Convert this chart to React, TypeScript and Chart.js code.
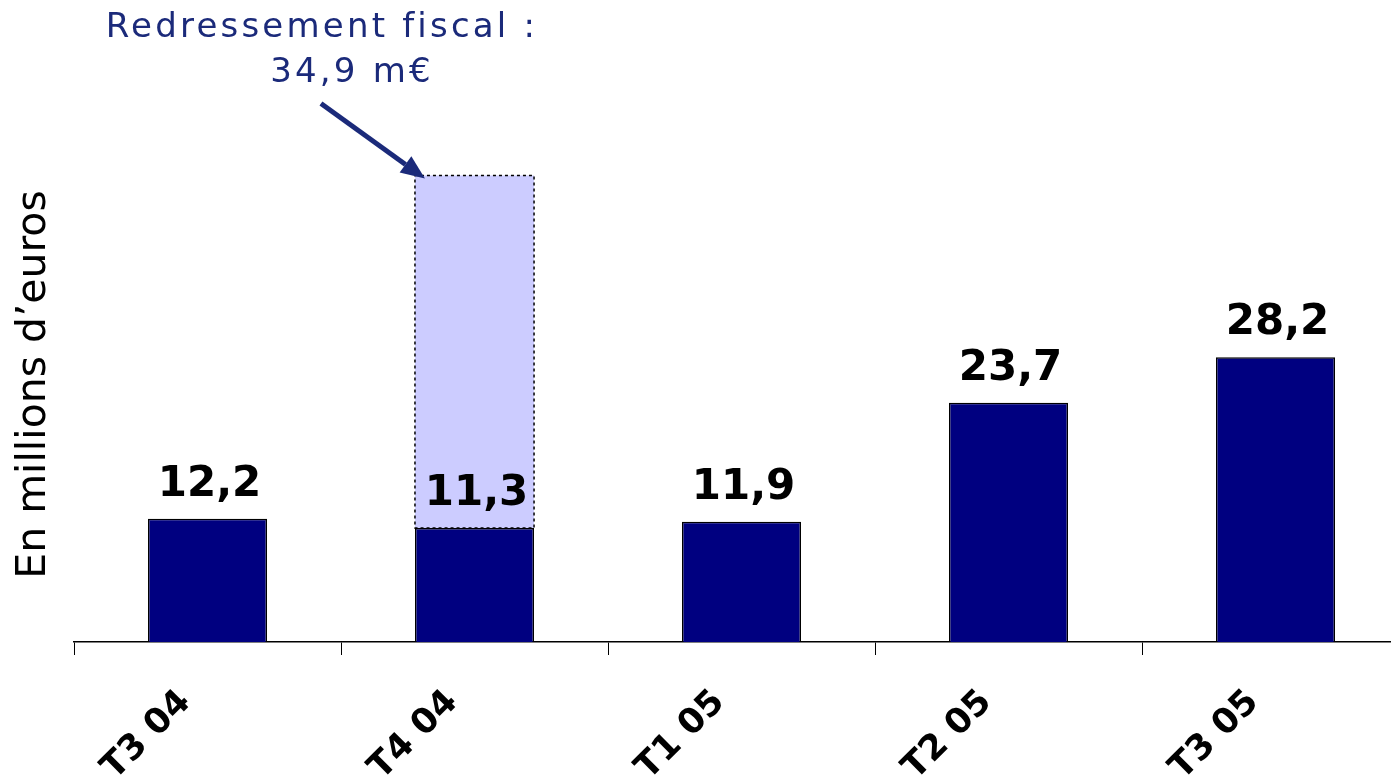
import React, { useEffect, useRef } from "react";
import { Chart, registerables } from "chart.js";

Chart.register(...registerables);

// ---- data ----
const categories = ["T3 04", "T4 04", "T1 05", "T2 05", "T3 05"];
const resultValues = [12.2, 11.3, 11.9, 23.7, 28.2];
const fiscalValues: (number | null)[] = [null, 34.9, null, null, null];
const valueLabels = ["12,2", "11,3", "11,9", "23,7", "28,2"];
const yAxisTitle = "En millions d’euros";
const noteLines = ["Redressement fiscal :", "34,9 m€"];
const Y_MAX = 51;

const CANVAS_W = 1409;
const CANVAS_H = 776;
const NOTE_COLOR = "#1B2A7A";

const overlay = {
  id: "overlay",
  afterDatasetsDraw(chart: any) {
    const ctx: CanvasRenderingContext2D = chart.ctx;
    const m0 = chart.getDatasetMeta(0);
    const m1 = chart.getDatasetMeta(1);
    ctx.save();

    // dotted border around the fiscal part
    let fiscalEl: any = null;
    m1.data.forEach((el: any, i: number) => {
      if (fiscalValues[i] == null) return;
      fiscalEl = el;
      const { x, y, base, width } = el.getProps(["x", "y", "base", "width"], true);
      ctx.setLineDash([3, 3]);
      ctx.lineWidth = 1.5;
      ctx.strokeStyle = "#000";
      ctx.strokeRect(x - width / 2, y, width, base - y);
    });
    ctx.setLineDash([]);

    // value labels
    ctx.fillStyle = "#000";
    ctx.font = "bold 42px 'DejaVu Sans'";
    ctx.textAlign = "center";
    ctx.textBaseline = "alphabetic";
    m0.data.forEach((el: any, i: number) => {
      const { x, y } = el.getProps(["x", "y"], true);
      ctx.fillText(valueLabels[i], x + 2, y - 23);
    });

    // annotation arrow + text
    if (fiscalEl) {
      const { x, y, width } = fiscalEl.getProps(["x", "y", "width"], true);
      const tipX = x - width / 2 + 10;
      const tipY = y + 3;
      const sx = tipX - 104;
      const sy = tipY - 75;
      const ang = Math.atan2(tipY - sy, tipX - sx);
      const headLen = 24;
      const headHalf = 10;
      const bx = tipX - headLen * Math.cos(ang);
      const by = tipY - headLen * Math.sin(ang);
      ctx.strokeStyle = NOTE_COLOR;
      ctx.fillStyle = NOTE_COLOR;
      ctx.lineWidth = 5;
      ctx.beginPath();
      ctx.moveTo(sx, sy);
      ctx.lineTo(bx, by);
      ctx.stroke();
      ctx.beginPath();
      ctx.moveTo(tipX, tipY);
      ctx.lineTo(bx + headHalf * Math.sin(ang), by - headHalf * Math.cos(ang));
      ctx.lineTo(bx - headHalf * Math.sin(ang), by + headHalf * Math.cos(ang));
      ctx.closePath();
      ctx.fill();

      ctx.font = "34px 'DejaVu Sans'";
      (ctx as any).letterSpacing = "3.2px";
      ctx.textAlign = "center";
      ctx.fillText(noteLines[0], sx + 1, sy - 66);
      ctx.fillText(noteLines[1], sx + 31, sy - 21);
    }
    ctx.restore();
  },
};

export default function App() {
  const ref = useRef<HTMLCanvasElement>(null);

  useEffect(() => {
    if (!ref.current) return;
    const chart = new Chart(ref.current, {
      type: "bar",
      data: {
        labels: categories,
        datasets: [
          {
            data: resultValues,
            backgroundColor: "#000080",
            borderColor: "#000",
            borderWidth: 1.5,
            borderSkipped: "bottom",
            stack: "s",
            categoryPercentage: 1,
            barPercentage: 0.446,
          },
          {
            data: fiscalValues,
            backgroundColor: "#CCCCFF",
            borderWidth: 0,
            stack: "s",
            categoryPercentage: 1,
            barPercentage: 0.446,
          },
        ],
      },
      options: {
        responsive: false,
        animation: false,
        devicePixelRatio: 1,
        layout: { padding: { top: 127, left: 0, right: 0, bottom: 0 } },
        plugins: {
          legend: { display: false },
          tooltip: { enabled: false },
        },
        scales: {
          x: {
            stacked: true,
            grid: {
              display: true,
              drawOnChartArea: false,
              drawTicks: true,
              tickLength: 13,
              color: "#000",
              lineWidth: 1,
              offset: true,
            },
            border: { display: true, color: "#000", width: 1.5 },
            ticks: {
              minRotation: 45,
              maxRotation: 45,
              autoSkip: false,
              color: "#000",
              font: { family: "DejaVu Sans", weight: "bold", size: 35 },
              padding: 27,
              labelOffset: -22,
            },
            afterFit: (s: any) => {
              s.height = 134;
            },
          },
          y: {
            stacked: true,
            min: 0,
            max: Y_MAX,
            grid: { display: false },
            border: { display: false },
            ticks: { display: false },
            title: {
              display: true,
              text: yAxisTitle,
              color: "#000",
              font: { family: "DejaVu Sans", size: 41 },
              padding: { top: 10, bottom: 0 },
            },
            afterFit: (s: any) => {
              s.width = 74;
            },
          },
        },
      },
      plugins: [overlay],
    } as any);
    return () => chart.destroy();
  }, []);

  return (
    <div
      style={{
        position: "fixed",
        left: 0,
        top: 0,
        width: 1391,
        height: 776,
        overflow: "hidden",
        background: "#fff",
      }}
    >
      <canvas
        ref={ref}
        width={CANVAS_W}
        height={CANVAS_H}
        style={{ display: "block", width: CANVAS_W, height: CANVAS_H }}
      />
    </div>
  );
}
